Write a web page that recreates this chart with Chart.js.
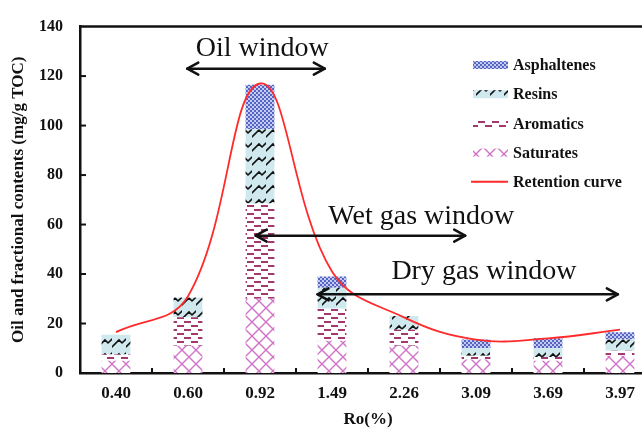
<!DOCTYPE html>
<html><head><meta charset="utf-8">
<script src="https://cdn.jsdelivr.net/npm/chart.js@4.4.1/dist/chart.umd.min.js"></script>
<style>
html,body{margin:0;padding:0;background:#fff;overflow:hidden;}
#wrap{position:absolute;left:0;top:0;width:660px;height:434px;}
</style></head><body>
<div id="wrap"><canvas id="c" width="660" height="434"></canvas></div>
<script>
// Vitrinite reflectance stages
const ro = ['0.40', '0.60', '0.92', '1.49', '2.26', '3.09', '3.69', '3.97'];
// Fractional contents, mg/g TOC (stacked bottom to top)
const saturates   = [5, 11, 30, 13, 11, 5.5, 5, 7];
const aromatics   = [2.5, 11.5, 38.5, 13, 6.5, 1.5, 1.5, 2];
const resins      = [8, 8, 30, 8.5, 5.5, 3, 3.5, 4.5];
const asphaltenes = [0, 0, 18, 4.5, 0, 3.5, 4, 3];
// Oil retained in the source rock
const retention   = [16.5, 31, 117, 41, 22.5, 13.5, 14, 17.5];
// y axis range
const yMin = 0, yMax = 140, yStep = 20;

// Maturity windows (x in category index units, y in mg/g TOC)
const windowNames = ['Oil window', 'Wet gas window', 'Dry gas window'];
const windowFrom  = [0.99, 1.94, 2.8];
const windowTo    = [2.9, 4.85, 6.97];
const windowArrowY = [123, 55.5, 31.8];
const windowTextX = [2.03, 4.24, 5.11];
const windowTextY = [131, 63, 41];

const canvas = document.getElementById('c');
const ctx = canvas.getContext('2d');
const SERIF = '"Liberation Serif", "Times New Roman", serif';

function makePattern(w, h, draw) {
  const t = document.createElement('canvas');
  t.width = w; t.height = h;
  draw(t.getContext('2d'));
  return ctx.createPattern(t, 'repeat');
}
const patAsph = makePattern(4, 4, g => {
  g.fillStyle = '#c3cbf0'; g.fillRect(0, 0, 4, 4);
  g.fillStyle = '#5664c4'; g.fillRect(0, 0, 2, 2); g.fillRect(2, 2, 2, 2);
});
const patRes = makePattern(14, 14, g => {
  g.fillStyle = '#cfe9ef'; g.fillRect(0, 0, 14, 14);
  g.strokeStyle = '#111'; g.lineWidth = 1.6; g.lineCap = 'round';
  g.beginPath();
  // diagonal bricks: long up-right strokes joined by short down-right steps
  g.moveTo(0, 11); g.lineTo(7, 4); g.lineTo(10, 7);
  g.moveTo(10, 7); g.lineTo(14, 3);
  g.stroke();
});
const patAro = makePattern(14, 8, g => {
  g.fillStyle = '#ffffff'; g.fillRect(0, 0, 14, 8);
  g.fillStyle = '#a3376f';
  g.fillRect(2, 1, 7, 2);
  g.fillRect(9, 5, 5, 2); g.fillRect(0, 5, 2, 2);
});
const patSat = makePattern(14, 14, g => {
  g.fillStyle = '#ffffff'; g.fillRect(0, 0, 14, 14);
  g.strokeStyle = '#d072c8'; g.lineWidth = 1.4;
  g.beginPath();
  g.moveTo(0, 0); g.lineTo(14, 14);
  g.moveTo(14, 0); g.lineTo(0, 14);
  g.stroke();
});

function arrow(g, x1, x2, y) {
  g.save();
  g.strokeStyle = '#111'; g.lineWidth = 2.5; g.lineCap = 'round'; g.lineJoin = 'round';
  g.beginPath(); g.moveTo(x1, y); g.lineTo(x2, y); g.stroke();
  const hx = 11, hy = 6;
  g.beginPath(); g.moveTo(x1 + hx, y - hy); g.lineTo(x1, y); g.lineTo(x1 + hx, y + hy); g.stroke();
  g.beginPath(); g.moveTo(x2 - hx, y - hy); g.lineTo(x2, y); g.lineTo(x2 - hx, y + hy); g.stroke();
  g.restore();
}

const decor = {
  id: 'decor',
  afterDraw(chart) {
    const g = chart.ctx, a = chart.chartArea;
    const xs = chart.scales.x, ys = chart.scales.y;
    g.save();
    // frame top and inward tick marks
    g.strokeStyle = '#111'; g.lineWidth = 2.5;
    g.beginPath(); g.moveTo(a.left, a.top); g.lineTo(a.right, a.top); g.stroke();
    g.lineWidth = 2;
    for (let v = yMin + yStep; v < yMax; v += yStep) {
      const y = ys.getPixelForValue(v);
      g.beginPath(); g.moveTo(a.left, y); g.lineTo(a.left + 6, y); g.stroke();
    }
    for (let i = 0; i < ro.length - 1; i++) {
      const x = xs.getPixelForValue(i + 0.5);
      g.beginPath(); g.moveTo(x, a.bottom); g.lineTo(x, a.bottom - 5); g.stroke();
    }
    // maturity windows
    g.fillStyle = '#111';
    g.font = '28px ' + SERIF;
    g.textAlign = 'center'; g.textBaseline = 'middle';
    windowNames.forEach((name, i) => {
      g.fillText(name, xs.getPixelForValue(windowTextX[i]), ys.getPixelForValue(windowTextY[i]));
      arrow(g, xs.getPixelForValue(windowFrom[i]), xs.getPixelForValue(windowTo[i]), ys.getPixelForValue(windowArrowY[i]));
    });
    // legend
    const items = [
      ['Asphaltenes', patAsph],
      ['Resins', patRes],
      ['Aromatics', patAro],
      ['Saturates', patSat],
      ['Retention curve', null]
    ];
    const lx = 473, ly = 65, dy = 29.2;
    g.font = 'bold 16px ' + SERIF;
    g.textAlign = 'left';
    items.forEach((it, i) => {
      const cy = ly + i * dy;
      if (it[1]) {
        g.fillStyle = it[1];
        g.fillRect(lx, cy - 4, 35, 8);
      } else {
        g.strokeStyle = '#ff2a2a'; g.lineWidth = 2;
        g.beginPath(); g.moveTo(lx - 2, cy); g.lineTo(lx + 35, cy); g.stroke();
      }
      g.fillStyle = '#111';
      g.fillText(it[0], lx + 40, cy + 1);
    });
    g.restore();
  }
};

const tickFont = size => ({ family: SERIF, weight: 'bold', size });

new Chart(ctx, {
  type: 'bar',
  data: {
    labels: ro,
    datasets: [
      { type: 'line', label: 'Retention curve', data: retention, borderColor: '#ff2a2a', borderWidth: 1.8,
        pointRadius: 0, tension: 0.4, fill: false, order: 0, stack: 'curve' },
      { label: 'Saturates', data: saturates, backgroundColor: patSat, order: 1, stack: 'frac' },
      { label: 'Aromatics', data: aromatics, backgroundColor: patAro, order: 1, stack: 'frac' },
      { label: 'Resins', data: resins, backgroundColor: patRes, order: 1, stack: 'frac' },
      { label: 'Asphaltenes', data: asphaltenes, backgroundColor: patAsph, order: 1, stack: 'frac' }
    ]
  },
  options: {
    responsive: false,
    animation: false,
    layout: { padding: { top: 20, right: 4, left: 0, bottom: 0 } },
    plugins: { legend: { display: false }, tooltip: { enabled: false } },
    datasets: { bar: { categoryPercentage: 0.8, barPercentage: 0.5, borderWidth: 0 } },
    scales: {
      x: {
        stacked: true,
        grid: { display: false, drawTicks: false },
        border: { display: true, color: '#111', width: 2.5 },
        ticks: { padding: 10, color: '#111', font: tickFont(17) },
        title: { display: true, text: 'Ro(%)', color: '#111', font: tickFont(17), padding: { top: 0, bottom: 4 } },
        afterFit(s) { s.height = 61; }
      },
      y: {
        stacked: true, min: yMin, max: yMax,
        grid: { display: false, drawTicks: false },
        border: { display: true, color: '#111', width: 2.5 },
        ticks: { stepSize: yStep, padding: 17, color: '#111', font: tickFont(16) },
        title: { display: true, text: 'Oil and fractional contents (mg/g TOC)', color: '#111', font: tickFont(17), padding: { top: 8 } },
        afterFit(s) { s.width = 80; }
      }
    }
  },
  plugins: [decor]
});
</script>
</body></html>
